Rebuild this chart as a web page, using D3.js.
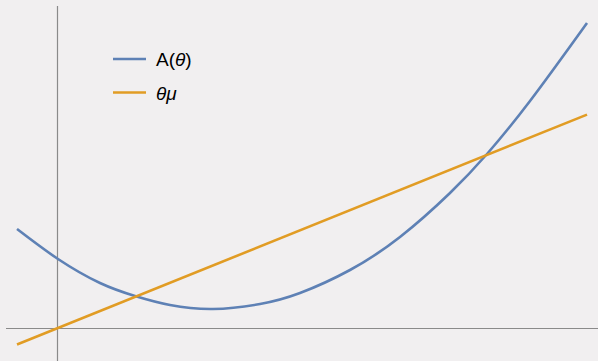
<!DOCTYPE html>
<html>
<head>
<meta charset="utf-8">
<script src="https://cdn.jsdelivr.net/npm/d3@7"></script>
<style>
  html, body { margin: 0; padding: 0; background: #f1eff0; }
  svg { display: block; }
</style>
</head>
<body>
<svg id="chart" width="598" height="361"></svg>
<script>
// Sampled values of the convex cost curve A(θ)
const thetaA = [-0.41, 0, 0.42, 0.77, 1.12, 1.55, 2.02, 2.42, 2.92, 3.42, 3.92, 4.29, 4.72, 5.29];
const valuesA = [0.99, 0.69, 0.45, 0.32, 0.23, 0.19, 0.24, 0.35, 0.58, 0.91, 1.35, 1.74, 2.27, 3.05];

// Endpoints of the linear term θμ
const thetaLine = [-0.41, 5.29];
const valuesLine = [-0.165, 2.134];

const legendLabels = ["A(θ)", "θμ"];
const colors = ["#5e81b5", "#e19c24"];

const width = 598, height = 361;
const svg = d3.select("#chart");

const x = d3.scaleLinear().domain([-0.58, 5.40]).range([0, width]);
const y = d3.scaleLinear().domain([-0.33, 3.28]).range([height, 0]);

// Axes through the origin
svg.append("line")
  .attr("x1", x(0) - 0.5).attr("x2", x(0) - 0.5)
  .attr("y1", 6).attr("y2", height)
  .attr("stroke", "#8a8a8a").attr("stroke-width", 1.2);
svg.append("line")
  .attr("x1", 6).attr("x2", width)
  .attr("y1", y(0) + 0.5).attr("y2", y(0) + 0.5)
  .attr("stroke", "#8a8a8a").attr("stroke-width", 1.2);

const curveA = thetaA.map((t, i) => [t, valuesA[i]]);
const lineMu = thetaLine.map((t, i) => [t, valuesLine[i]]);

const gen = d3.line().x(d => x(d[0])).y(d => y(d[1])).curve(d3.curveNatural);

svg.append("path")
  .attr("d", gen(curveA))
  .attr("fill", "none")
  .attr("stroke", colors[0])
  .attr("stroke-width", 2.6);

svg.append("path")
  .attr("d", d3.line().x(d => x(d[0])).y(d => y(d[1]))(lineMu))
  .attr("fill", "none")
  .attr("stroke", colors[1])
  .attr("stroke-width", 2.6);

// Legend
const legend = svg.append("g").attr("font-family", "Liberation Sans, Arial, sans-serif").attr("font-size", 19);
const rows = [59, 92.5];
rows.forEach((ry, i) => {
  legend.append("line")
    .attr("x1", 113).attr("x2", 146)
    .attr("y1", ry).attr("y2", ry)
    .attr("stroke", colors[i]).attr("stroke-width", 2.6);
});
const t1 = legend.append("text").attr("x", 156).attr("y", rows[0] + 7).attr("fill", "#000");
t1.append("tspan").text("A(");
t1.append("tspan").attr("font-style", "italic").text("θ");
t1.append("tspan").text(")");
legend.append("text").attr("x", 156).attr("y", rows[1] + 7).attr("fill", "#000")
  .attr("font-style", "italic").text(legendLabels[1]);
</script>
</body>
</html>
